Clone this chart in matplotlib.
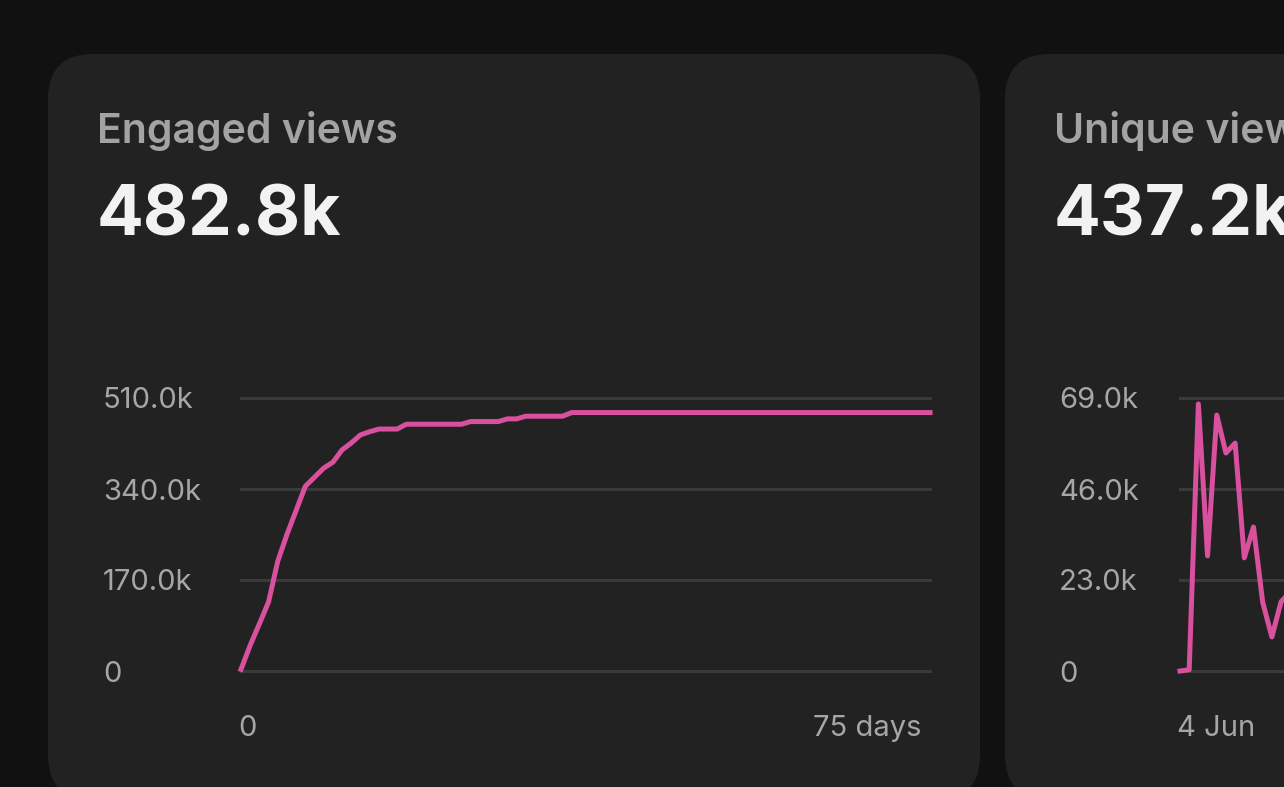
import numpy as np
import matplotlib.pyplot as plt
from matplotlib.patches import FancyBboxPatch

### Data
### ----------------------------
engaged_days = np.arange(0, 76)
engaged_k = [3, 48, 88, 129, 205, 255, 300, 345, 362, 379,
             390, 413, 426, 441, 447, 452, 452, 452, 461, 461,
             461, 461, 461, 461, 461, 466, 466, 466, 466, 471,
             471, 476, 476, 476, 476, 476, 482.8] + [482.8] * 39
engaged_ticks = [0, 170000, 340000, 510000]
engaged_ticklabels = ["0", "170.0k", "340.0k", "510.0k"]

unique_days = np.arange(0, 13)
unique_k = [0, 0.3, 67.5, 29.1, 64.7, 55.1, 57.6, 28.6, 36.4, 17.4, 8.6, 17.5, 20.0]
unique_ticks = [0, 23000, 46000, 69000]
unique_ticklabels = ["0", "23.0k", "46.0k", "69.0k"]

W, H = 1284, 787
BG = "#111111"
CARD = "#222222"
GRID = "#3a3a3a"
LINE = "#d9509f"
LABEL = "#a6a6a6"

plt.rcParams['font.family'] = ['Inter', 'DejaVu Sans']

fig = plt.figure(figsize=(W / 100, H / 100), dpi=100)
fig.patch.set_facecolor(BG)


def fx(px):
    return px / W


def fy(py):
    return 1 - py / H


def card(x0, x1, y0, y1):
    fig.patches.append(FancyBboxPatch(
        (fx(x0), fy(y1)), fx(x1 - x0), (y1 - y0) / H,
        boxstyle="round,pad=0,rounding_size=0.035",
        mutation_aspect=W / H,
        transform=fig.transFigure, facecolor=CARD, edgecolor="none", zorder=-5))


def chart(card_left, plot_left, label_left, title, total, days, vals,
          ticks, ticklabels, ymax, xl_left, xl_right):
    plot_w = 689
    ax = fig.add_axes([fx(plot_left), fy(671), fx(plot_w), (671 - 398) / H])
    ax.set_zorder(2)
    ax.set_facecolor("none")
    for s in ax.spines.values():
        s.set_visible(False)
    ax.set_xticks([])
    ax.set_yticks([])
    ax.set_xlim(0, 75)
    ax.set_ylim(0, ymax)

    for t, lab in zip(ticks, ticklabels):
        ax.axhline(t, color=GRID, lw=2.2, zorder=1, clip_on=False)
        fig.text(fx(label_left), fy(401 + (ymax - t) / ymax * 273), lab,
                 color=LABEL, fontsize=21, ha="left", va="center")

    ax.plot(days, np.array(vals) * 1000, color=LINE, lw=3.6,
            solid_joinstyle="round", zorder=3, clip_on=False)

    fig.text(fx(plot_left - 3), fy(729), xl_left, color=LABEL,
             fontsize=21, ha="left", va="center")
    if xl_right:
        fig.text(fx(plot_left + plot_w - 9), fy(729), xl_right, color=LABEL,
                 fontsize=21, ha="right", va="center")

    fig.text(fx(card_left + 49), fy(131), title, color="#a3a3a3",
             fontsize=29.5, fontweight="semibold", ha="left", va="center")
    fig.text(fx(card_left + 49), fy(217), total, color="#f2f2f2",
             fontsize=50, fontweight="bold", ha="left", va="center")


card(48, 980, 54, 800)
card(1005, 1960, 54, 800)

chart(48, 241, 103, "Engaged views", "482.8k", engaged_days, engaged_k,
      engaged_ticks, engaged_ticklabels, 510000, "0", "75 days")
chart(1005, 1180, 1059, "Unique views", "437.2k", unique_days, unique_k,
      unique_ticks, unique_ticklabels, 69000, "4 Jun", None)

fig.savefig("out.png", dpi=100, facecolor=BG)
